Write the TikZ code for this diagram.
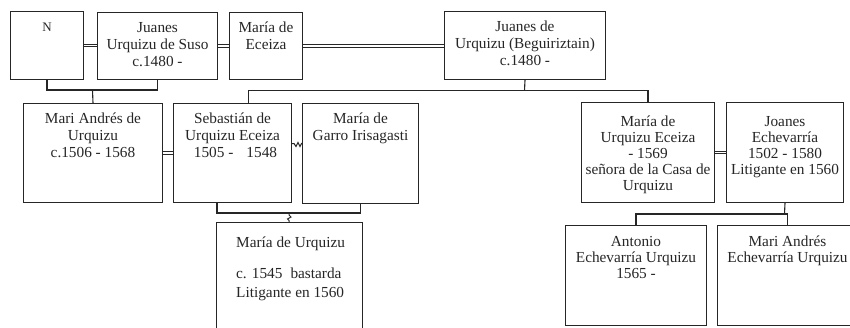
\documentclass[tikz,border=0pt]{standalone}
\usepackage{fontspec}
\setmainfont{Liberation Serif}
\begin{document}
\begin{tikzpicture}[x=1pt,y=-1pt,
  box/.style={draw=black!85, line width=1pt, anchor=north west, inner sep=0pt},
  txt/.style={anchor=north, inner sep=0pt, align=center, text=black!85,
    font=\fontsize{15.3}{16.6}\selectfont},
  conn/.style={draw=black!85, line width=1.1pt},
  dbl/.style={draw=black!85, double, double distance=1.8pt, line width=0.75pt},
  zz/.style={draw=black!85, line width=1pt, line join=miter}]
\clip (0,0) rectangle (850,327);
\fill[white] (0,0) rectangle (850,327);
% boxes
\node[box, minimum width=73pt, minimum height=68pt] (N) at (10,11) {};
\node[box, minimum width=120pt, minimum height=67pt] (JS) at (97,12) {};
\node[box, minimum width=73pt, minimum height=67pt] (ME) at (229,12) {};
\node[box, minimum width=161pt, minimum height=68pt] (JB) at (444,11) {};
\node[box, minimum width=139pt, minimum height=99pt] (MA) at (23,103) {};
\node[box, minimum width=118pt, minimum height=99pt] (SE) at (173,103) {};
\node[box, minimum width=116pt, minimum height=100pt] (MG) at (302,103) {};
\node[box, minimum width=146pt, minimum height=130pt] (MU) at (216,222) {};
\node[box, minimum width=133pt, minimum height=100pt] (MUE) at (581,102) {};
\node[box, minimum width=117pt, minimum height=100pt] (JE) at (726,102) {};
\node[box, minimum width=141pt, minimum height=100pt] (AE) at (565,225) {};
\node[box, minimum width=140pt, minimum height=100pt] (MAE) at (717,225) {};
% texts
\node[txt, font=\fontsize{13}{16.6}\selectfont] (tN) at ([yshift=-9pt]N.north) {\strut N};
\node[txt] (tJS) at ([yshift=-9pt]JS.north) {\strut Juanes\\Urquizu de Suso\\c.1480 -};
\node[txt] (tME) at ([yshift=-9pt]ME.north) {\strut María de\\Eceiza};
\node[txt] (tJB) at ([yshift=-9pt]JB.north) {\strut Juanes de\\Urquizu (Beguiriztain)\\c.1480 -};
\node[txt] (tMA) at ([yshift=-9pt]MA.north) {\strut Mari Andrés de\\Urquizu\\c.1506 - 1568};
\node[txt] (tSE) at ([yshift=-9pt]SE.north) {\strut Sebastián de\\Urquizu Eceiza\\\hspace*{6pt}1505 -\hspace{13pt}1548};
\node[txt] (tMG) at ([yshift=-9pt]MG.north) {\strut María de\\Garro Irisagasti};
\node[txt, anchor=north west, align=left] (tMU) at ([xshift=20pt,yshift=-14pt]MU.north west)
  {\strut María de Urquizu\\[14pt]c. 1545\hspace{8pt}bastarda\\[2pt]Litigante en 1560};
\node[txt, font=\fontsize{15.3}{16}\selectfont] (tMUE) at ([yshift=-13pt]MUE.north) {\strut María de\\Urquizu Eceiza\\- 1569\\señora de la Casa de\\Urquizu};
\node[txt, font=\fontsize{15.3}{16}\selectfont] (tJE) at ([yshift=-13pt]JE.north) {\strut Joanes\\Echevarría\\1502 - 1580\\Litigante en 1560};
\node[txt, font=\fontsize{15.3}{16}\selectfont] (tAE) at ([yshift=-10pt]AE.north) {\strut Antonio\\Echevarría Urquizu\\1565 -};
\node[txt, font=\fontsize{15.3}{16}\selectfont] (tMAE) at ([yshift=-10pt]MAE.north) {\strut Mari Andrés\\Echevarría Urquizu};
% marriages
\draw[dbl] (N.east) -- (N.east -| JS.west);
\draw[dbl] (JS.east) -- (JS.east -| ME.west);
\draw[dbl] (ME.east) -- (ME.east -| JB.west);
\draw[dbl] (MA.east) -- (MA.east -| SE.west);
\draw[dbl] (MUE.east) -- (MUE.east -| JE.west);
\draw[zz] ([yshift=9.5pt]SE.east) -- ++(2,0) -- ++(2,3) -- ++(2,-4) -- ++(2,4) -- ++(1.5,-3) -- ([yshift=9.5pt]MG.west);
% descent
\coordinate (c1) at (92.5,90);
\draw[conn] (N.south) |- (c1) -| (JS.south);
\draw[conn] (c1) -- (MA.north);
\coordinate (c2) at (524.5,90.5);
\draw[conn] (JB.south) -- (c2);
\draw[conn] ([xshift=16pt]SE.north) |- (c2) -| (MUE.north);
\coordinate (c3) at (289,213);
\draw[conn] ([xshift=-15.5pt]SE.south) |- (c3) -| (MG.south);
\draw[zz] (c3) -- ++(0,2) -- ++(2,2) -- ++(-3.5,2) -- ++(1.5,1.5) -- (c3 |- MU.north);
\coordinate (c4) at (784.5,214);
\draw[conn] (JE.south) -- (c4);
\draw[conn] (AE.north) |- (c4) -| (MAE.north);
\end{tikzpicture}
\end{document}
